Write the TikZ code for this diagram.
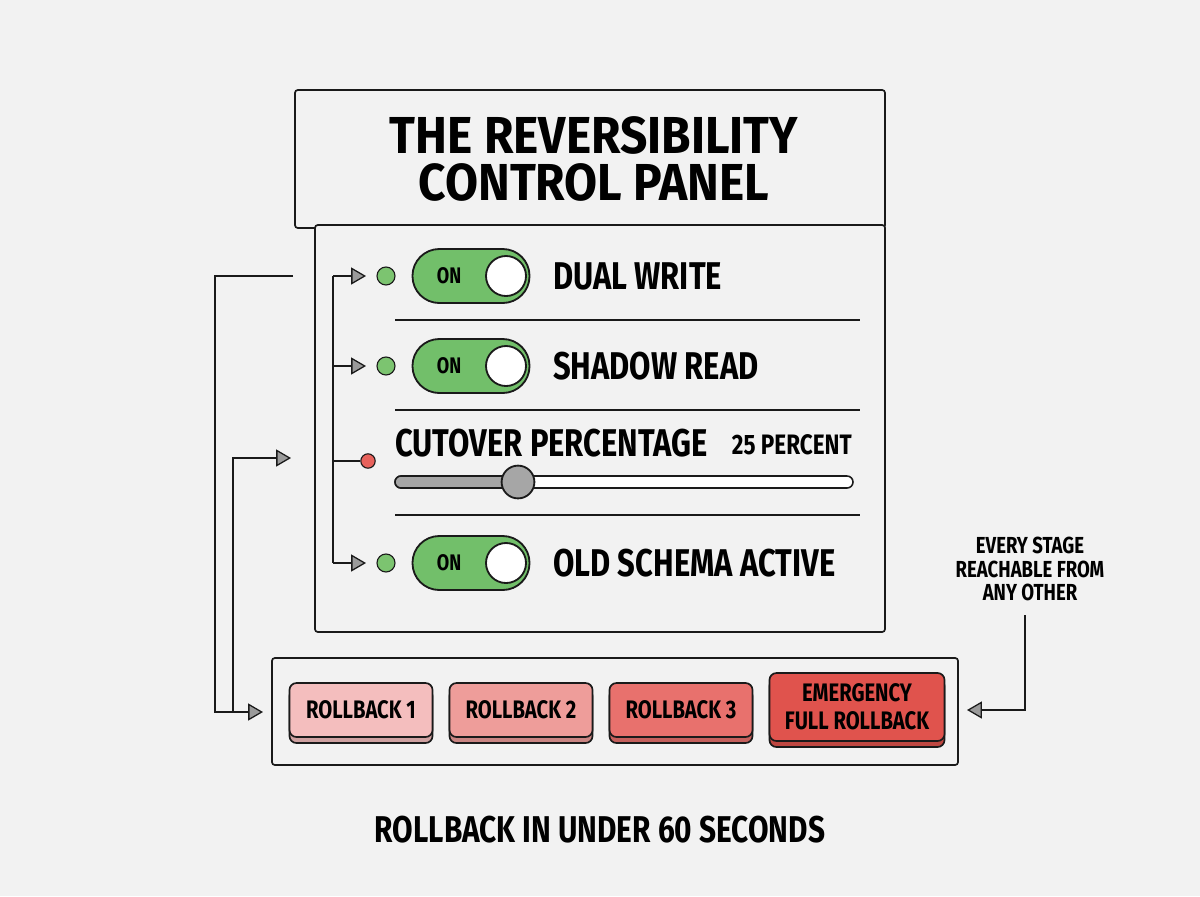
\documentclass[tikz,border=0pt]{standalone}
\usepackage{fontspec}
\setmainfont{Fira Sans}[FakeStretch=0.80,BoldFont=Fira Sans Bold]
\newfontfamily\titlefont{Fira Sans Bold}[FakeStretch=0.92]
\usetikzlibrary{arrows.meta}
\definecolor{paper}{HTML}{F2F2F2}
\definecolor{ink}{HTML}{1A1A1A}
\definecolor{ongreen}{HTML}{72BF6A}
\definecolor{dotgreen}{HTML}{7CC470}
\definecolor{dotred}{HTML}{E8625C}
\definecolor{tipgray}{HTML}{9A9A9A}
\definecolor{knobgray}{HTML}{A6A6A6}
\definecolor{rbone}{HTML}{F4BEBE}
\definecolor{rbtwo}{HTML}{EE9D9A}
\definecolor{rbthree}{HTML}{E8716D}
\definecolor{rbfull}{HTML}{E0534D}
\begin{document}
\begin{tikzpicture}[x=0.025cm,y=-0.025cm,
  frame/.style={draw=ink,line width=1.2pt,rounded corners=2pt},
  wire/.style={draw=ink,line width=1.1pt},
  tip/.style={-{Triangle[length=10.5pt,width=12pt,fill=tipgray,line width=0.9pt]}},
  rowlabel/.style={font=\bfseries\fontsize{27.5}{30}\selectfont,anchor=west,inner sep=0pt},
  switch/.style={draw=ink,fill=ongreen,line width=1.3pt,rounded corners=0.67cm,
    minimum width=2.925cm,minimum height=1.35cm,inner sep=0pt},
  lamp/.style={circle,draw=ink,line width=0.8pt,minimum size=0.45cm,inner sep=0pt},
  knob/.style={circle,draw=ink,fill=white,line width=1.3pt,minimum size=1cm,inner sep=0pt},
  button/.style={draw=ink,line width=1.2pt,rounded corners=5pt,minimum height=1.35cm,
    inner sep=0pt,align=center,font=\bfseries\fontsize{18}{20}\selectfont}]
% Paper
\fill[paper] (0,0) rectangle (1200,896);
% Title box
\draw[frame] (295,90) rectangle (885,228);
\node[align=center,font=\titlefont\fontsize{37}{34}\selectfont] (title) at (594,159)
  {THE REVERSIBILITY\\CONTROL PANEL};
% Panel box
\draw[frame,fill=paper] (315,225) rectangle (885,632);
% Separators
\draw[wire] (395,320) -- (860,320);
\draw[wire] (395,410) -- (860,410);
\draw[wire] (395,515) -- (860,515);
% Toggle rows
\foreach \y/\txt/\nm in {276/DUAL WRITE/dw,366/SHADOW READ/sr,563/OLD SCHEMA ACTIVE/os}{
  \node[lamp,fill=dotgreen] (lamp-\nm) at (386,\y) {};
  \node[switch] (sw-\nm) at (471,\y) {};
  \node[font=\bfseries\fontsize{16}{18}\selectfont] (on-\nm) at (449,\y) {ON};
  \node[knob] (knob-\nm) at (506,\y) {};
  \node[rowlabel] (lbl-\nm) at (553,\y) {\txt};
  \coordinate (bus-\nm) at (333,\y);
  \coordinate (end-\nm) at (366,\y);
  \draw[wire,tip] (bus-\nm) -- (end-\nm);
}
% Cutover slider
\node[rowlabel] (cut) at (395,443) {CUTOVER PERCENTAGE};
\node[font=\bfseries\fontsize{20}{22}\selectfont,anchor=east,inner sep=0pt] (pct) at (852,445) {25 PERCENT};
\node[lamp,fill=dotred,minimum size=0.36cm] (lamp-cut) at (368,461) {};
\draw[draw=ink,fill=white,line width=1.1pt,rounded corners=0.15cm] (395,476) rectangle (853,488);
\draw[draw=ink,fill=knobgray,line width=1.1pt,rounded corners=0.15cm] (395,476) rectangle (518,488);
\node[knob,fill=knobgray,minimum size=0.82cm] (slide) at (518,482) {};
\coordinate (bus-cut) at (333,461);
\draw[wire] (bus-cut) -- (lamp-cut);
% Bus
\draw[wire] (bus-dw) -- (bus-os);
% Rollback bar
\draw[frame] (272,658) rectangle (958,765);
\foreach \x/\w/\col/\txt/\nm in {361/3.575/rbone/ROLLBACK 1/rb1,521/3.575/rbtwo/ROLLBACK 2/rb2,
    681/3.575/rbthree/ROLLBACK 3/rb3}{
  \node[button,fill=\col!85!black,minimum width=\w cm] at (\x,716) {};
  \node[button,fill=\col,minimum width=\w cm] (\nm) at (\x,710) {\txt};
}
\node[button,fill=rbfull!85!black,minimum width=4.375cm,minimum height=1.7cm] at (857,713) {};
\node[button,fill=rbfull,minimum width=4.375cm,minimum height=1.7cm] (rbf) at (857,707)
  {EMERGENCY\\FULL ROLLBACK};
% Return lines
\coordinate (out-top) at (293,276);
\coordinate (in-bar) at (263,712);
\coordinate (in-mid) at (291,458);
\draw[wire,tip] (out-top) -- (215,276) -- (215,712) -- (in-bar);
\draw[wire,tip] (233,712) -- (233,458) -- (in-mid);
% Note on the right
\node[align=center,font=\bfseries\fontsize{16.5}{17}\selectfont] (note) at (1030,569)
  {EVERY STAGE\\REACHABLE FROM\\ANY OTHER};
\coordinate (note-foot) at (1025,615);
\coordinate (in-right) at (967,710);
\draw[wire,tip] (note-foot) -- (1025,710) -- (in-right);
% Caption
\node[font=\bfseries\fontsize{26.5}{28}\selectfont] (caption) at (600,830)
  {ROLLBACK IN UNDER 60 SECONDS};
\end{tikzpicture}
\end{document}
